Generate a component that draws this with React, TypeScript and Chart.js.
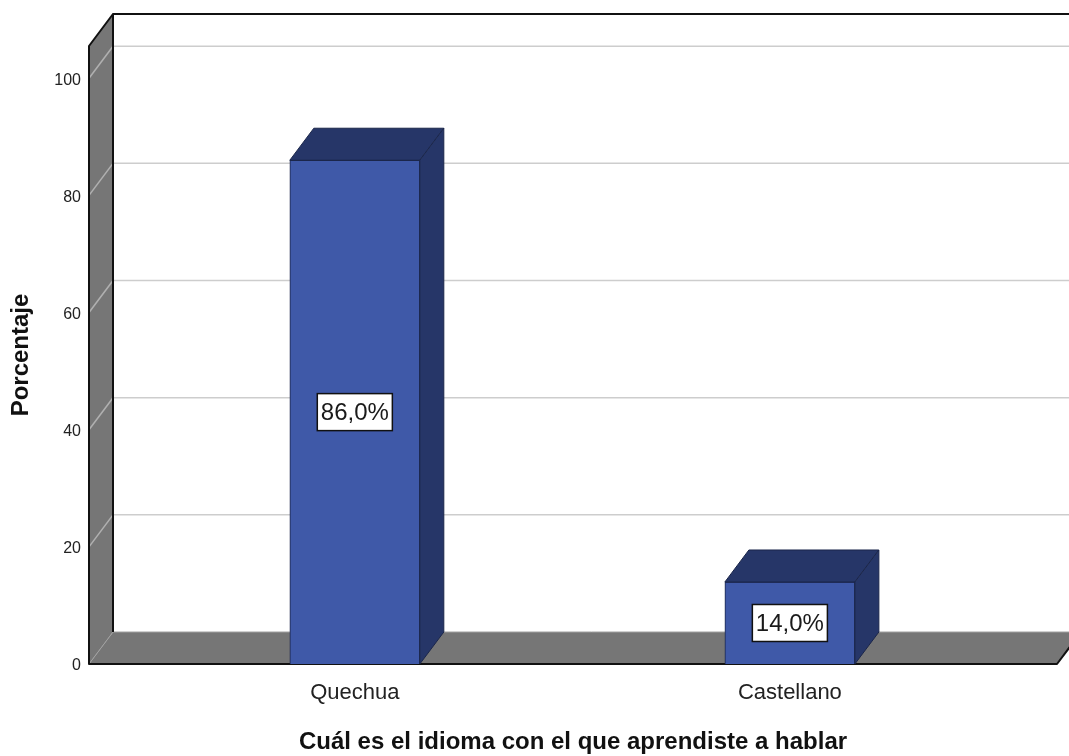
import React, { useEffect, useRef } from 'react';
import { Chart, registerables } from 'chart.js';

Chart.register(...registerables);

// ---- data ----
const categories = ['Quechua', 'Castellano'];
const percentages = [86.0, 14.0];
const yTickValues = [0, 20, 40, 60, 80, 100];
const xAxisTitle = 'Cuál es el idioma con el que aprendiste a hablar';
const yAxisTitle = 'Porcentaje';

// ---- style ----
const FONT = "'Liberation Sans', Arial, Helvetica, sans-serif";
const DX = 24;
const DY = -32;
const FRONT = '#3f59a8';
const DARK = '#263668';
const WALL = '#767676';
const TEXT = '#222222';

const formatPct = (v: number) => v.toFixed(1).replace('.', ',') + '%';

const threeD = {
  id: 'threeD',
  beforeDatasetsDraw(chart: any) {
    const { ctx, chartArea, scales } = chart;
    const y = scales.y;
    const L = chartArea.left;
    const R = chartArea.right;
    const T = y.getPixelForValue(y.max);
    const B = y.getPixelForValue(0);
    const W = chart.width + 40;
    ctx.save();
    // side wall
    ctx.fillStyle = WALL;
    ctx.beginPath();
    ctx.moveTo(L, T);
    ctx.lineTo(L + DX, T + DY);
    ctx.lineTo(L + DX, B + DY);
    ctx.lineTo(L, B);
    ctx.closePath();
    ctx.fill();
    // floor
    ctx.beginPath();
    ctx.moveTo(L, B);
    ctx.lineTo(L + DX, B + DY);
    ctx.lineTo(R + DX, B + DY);
    ctx.lineTo(R, B);
    ctx.closePath();
    ctx.fill();
    // grid lines
    ctx.lineWidth = 1.5;
    y.ticks.forEach((t: any) => {
      if (t.value === 0) return;
      const yy = y.getPixelForValue(t.value);
      ctx.strokeStyle = '#b0b0b0';
      ctx.beginPath();
      ctx.moveTo(L, yy);
      ctx.lineTo(L + DX, yy + DY);
      ctx.stroke();
      ctx.strokeStyle = '#cdcdcd';
      ctx.beginPath();
      ctx.moveTo(L + DX + 1, yy + DY);
      ctx.lineTo(W, yy + DY);
      ctx.stroke();
    });
    // light edges
    ctx.strokeStyle = '#a0a0a0';
    ctx.lineWidth = 1;
    ctx.beginPath();
    ctx.moveTo(L, B);
    ctx.lineTo(L + DX, B + DY);
    ctx.moveTo(L + DX, B + DY);
    ctx.lineTo(R + DX, B + DY);
    ctx.stroke();
    // dark outlines
    ctx.strokeStyle = '#111111';
    ctx.lineWidth = 2;
    ctx.lineJoin = 'round';
    ctx.beginPath();
    ctx.moveTo(W, T + DY);
    ctx.lineTo(L + DX, T + DY);
    ctx.lineTo(L + DX, B + DY);
    ctx.moveTo(L + DX, T + DY);
    ctx.lineTo(L, T);
    ctx.lineTo(L, B);
    ctx.lineTo(R, B);
    ctx.lineTo(R + DX, B + DY);
    ctx.stroke();
    ctx.restore();
  },
  afterDatasetsDraw(chart: any) {
    const { ctx } = chart;
    const meta = chart.getDatasetMeta(0);
    ctx.save();
    meta.data.forEach((bar: any, i: number) => {
      const { x, y, base, width } = bar.getProps(['x', 'y', 'base', 'width'], true);
      const x0 = x - width / 2;
      const x1 = x + width / 2;
      ctx.fillStyle = DARK;
      ctx.strokeStyle = '#1b264a';
      ctx.lineWidth = 1;
      // top face
      ctx.beginPath();
      ctx.moveTo(x0, y);
      ctx.lineTo(x0 + DX, y + DY);
      ctx.lineTo(x1 + DX, y + DY);
      ctx.lineTo(x1, y);
      ctx.closePath();
      ctx.fill();
      ctx.stroke();
      // side face
      ctx.beginPath();
      ctx.moveTo(x1, y);
      ctx.lineTo(x1 + DX, y + DY);
      ctx.lineTo(x1 + DX, base + DY);
      ctx.lineTo(x1, base);
      ctx.closePath();
      ctx.fill();
      ctx.stroke();
      // value label
      const label = formatPct(percentages[i]);
      ctx.font = `24px ${FONT}`;
      const tw = ctx.measureText(label).width;
      const bw = tw + 7;
      const bh = 37;
      const cy = (y + base) / 2;
      ctx.fillStyle = '#ffffff';
      ctx.fillRect(x - bw / 2, cy - bh / 2, bw, bh);
      ctx.strokeStyle = '#111111';
      ctx.lineWidth = 1.5;
      ctx.strokeRect(x - bw / 2, cy - bh / 2, bw, bh);
      ctx.fillStyle = '#1a1a1a';
      ctx.textAlign = 'center';
      ctx.textBaseline = 'middle';
      ctx.fillText(label, x, cy + 1);
    });
    ctx.restore();
  },
};

export default function App() {
  const ref = useRef<HTMLCanvasElement | null>(null);

  useEffect(() => {
    if (!ref.current) return;
    const chart = new Chart(ref.current, {
      type: 'bar',
      data: {
        datasets: [
          {
            data: percentages.map((v, i) => ({ x: i + 1, y: v })),
            backgroundColor: FRONT,
            borderColor: '#1b264a',
            borderWidth: 1,
            barThickness: 130,
          },
        ],
      },
      options: {
        animation: false,
        responsive: false,
        devicePixelRatio: 1,
        layout: { padding: { left: 0, right: 12, top: 46, bottom: 0 } },
        plugins: {
          legend: { display: false },
          tooltip: { enabled: false },
        },
        scales: {
          x: {
            type: 'linear',
            min: 0.389,
            max: 2.614,
            offset: false,
            bounds: 'data',
            grid: { display: false, offset: false },
            border: { display: false },
            afterBuildTicks: (scale: any) => {
              scale.ticks = categories.map((_, i) => ({ value: i + 1 }));
            },
            afterFit: (scale: any) => {
              scale.height = 92;
            },
            ticks: {
              autoSkip: false,
              maxRotation: 0,
              padding: 8,
              color: TEXT,
              font: { family: FONT, size: 22 },
              callback: (v: any) => categories[Math.round(Number(v)) - 1] ?? '',
            },
            title: {
              display: true,
              text: xAxisTitle,
              color: '#111111',
              font: { family: FONT, size: 24, weight: 'bold', lineHeight: 1 },
              padding: { top: 0, bottom: 2 },
            },
          },
          y: {
            type: 'linear',
            min: 0,
            max: 105.5,
            grid: { display: false },
            border: { display: false },
            afterBuildTicks: (scale: any) => {
              scale.ticks = yTickValues.map((v) => ({ value: v }));
            },
            afterFit: (scale: any) => {
              scale.width = 89;
            },
            ticks: {
              padding: 0,
              labelOffset: 2,
              color: TEXT,
              font: { family: FONT, size: 16 },
            },
            title: {
              display: true,
              text: yAxisTitle,
              color: '#111111',
              font: { family: FONT, size: 24, weight: 'bold', lineHeight: 1 },
              padding: { top: 9, bottom: 0 },
            },
          },
        },
      },
      plugins: [threeD],
    } as any);
    return () => chart.destroy();
  }, []);

  return (
    <div style={{ position: 'fixed', left: 0, top: 0, width: 1069, height: 756, background: '#ffffff' }}>
      <canvas ref={ref} width={1069} height={756} style={{ width: 1069, height: 756, display: 'block' }} />
    </div>
  );
}
